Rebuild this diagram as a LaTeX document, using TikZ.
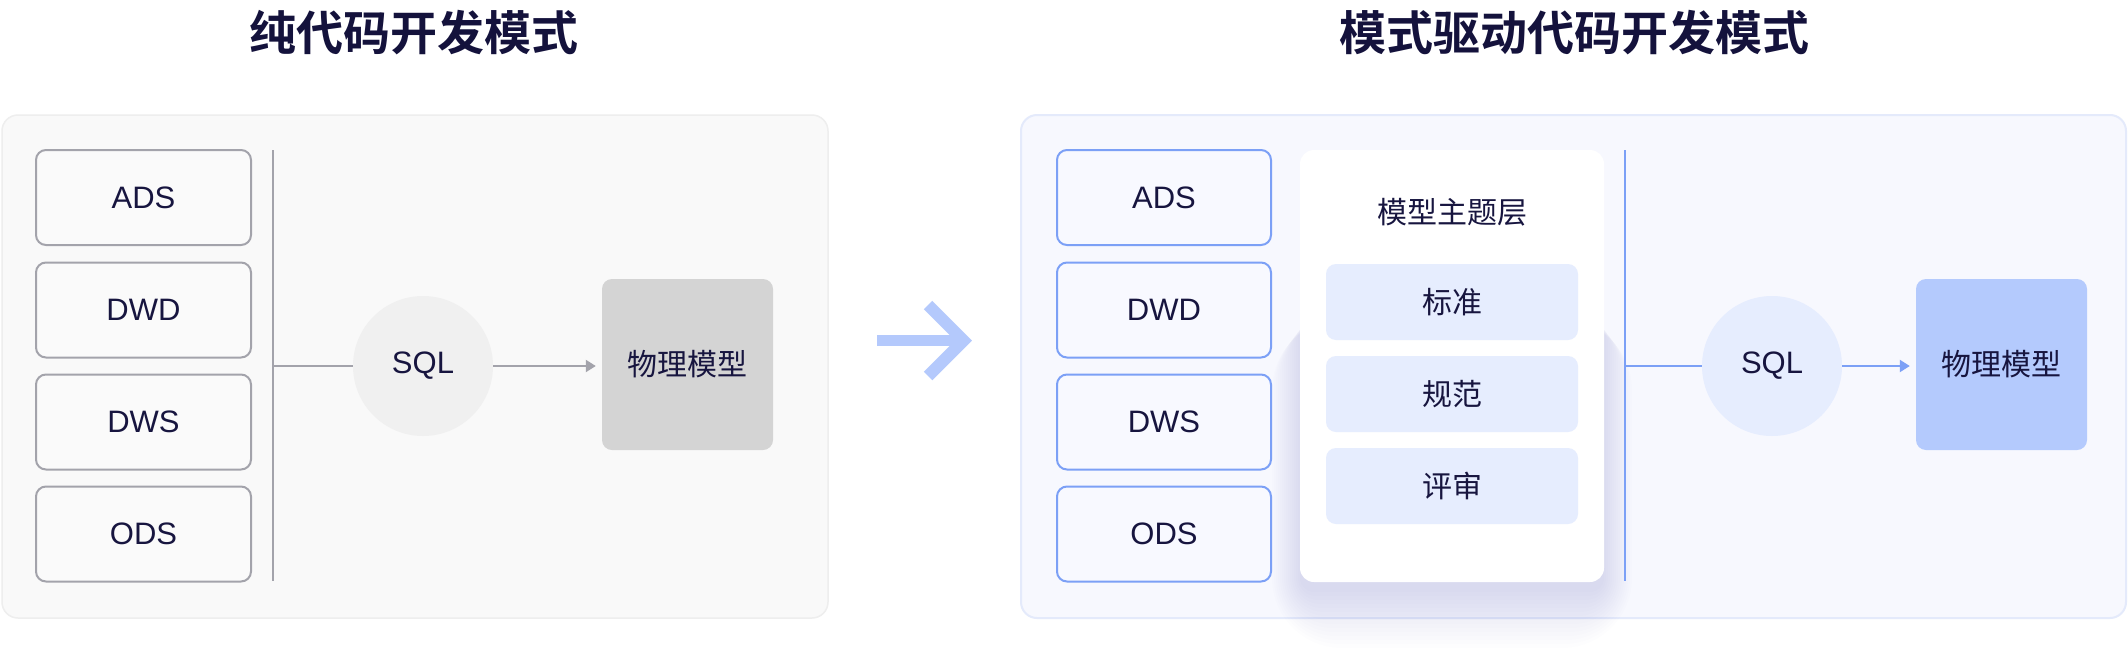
\documentclass[tikz,border=0pt]{standalone}
\usepackage{fontspec}
\setmainfont{Liberation Sans}
\newfontfamily\cjk[BoldFont={Noto Sans CJK SC Bold}]{Noto Sans CJK SC}
\usetikzlibrary{arrows.meta}
\definecolor{titlec}{HTML}{14123C}
\definecolor{txtc}{HTML}{17153F}
\definecolor{lpanelfill}{HTML}{F9F9F9}
\definecolor{lpaneldraw}{HTML}{EEEEEE}
\definecolor{graydraw}{HTML}{A3A3AB}
\definecolor{lboxfill}{HTML}{FAFAFA}
\definecolor{lcircle}{HTML}{F0F0F0}
\definecolor{lphys}{HTML}{D4D4D4}
\definecolor{rpanelfill}{HTML}{F7F8FE}
\definecolor{rpaneldraw}{HTML}{E4EAFB}
\definecolor{bluedraw}{HTML}{7CA0F6}
\definecolor{rboxfill}{HTML}{F8F9FF}
\definecolor{lightblue}{HTML}{E6EDFE}
\definecolor{rphys}{HTML}{B4CAFD}
\definecolor{bigarrow}{HTML}{B4C9FC}
\definecolor{shadowc}{HTML}{3A55A8}
\begin{document}
\begin{tikzpicture}[x=1pt,y=-1pt,
  titletext/.style={font=\cjk\bfseries\fontsize{47}{56}\selectfont, text=titlec, inner sep=0pt},
  lbl/.style={font=\fontsize{31}{37}\selectfont, text=txtc},
  clbl/.style={font=\cjk\fontsize{30}{36}\selectfont, text=txtc},
  layerL/.style={draw=graydraw, line width=2pt, fill=lboxfill, rounded corners=10pt, minimum width=215pt, minimum height=95pt, lbl},
  layerR/.style={draw=bluedraw, line width=2pt, fill=rboxfill, rounded corners=10pt, minimum width=214pt, minimum height=95pt, lbl},
  sqlL/.style={circle, fill=lcircle, minimum size=140pt, inner sep=0pt, lbl},
  sqlR/.style={circle, fill=lightblue, minimum size=140pt, inner sep=0pt, lbl},
  physbox/.style={rounded corners=10pt, minimum width=171pt, minimum height=171pt, clbl},
  rulebox/.style={fill=lightblue, rounded corners=10pt, minimum width=252pt, minimum height=76pt, clbl},
  tip/.style={-{Triangle[length=10pt,width=12pt]}}
]
\useasboundingbox (0,0) rectangle (2128,670);
\fill[white] (0,0) rectangle (2128,670);

% titles
\node[titletext] (t1) at (414,33) {纯代码开发模式};
\node[titletext] (t2) at (1574,33) {模式驱动代码开发模式};

% ---------------- left panel
\draw[fill=lpanelfill, draw=lpaneldraw, line width=1.5pt, rounded corners=16pt] (2,115) rectangle (828,618);
\node[layerL] (lads) at (143.5,197.5) {ADS};
\node[layerL] (ldwd) at (143.5,310) {DWD};
\node[layerL] (ldws) at (143.5,422) {DWS};
\node[layerL] (lods) at (143.5,534) {ODS};
\coordinate (lvt) at (273,150);
\coordinate (lvb) at (273,581);
\coordinate (lvm) at (273,366);
\draw[graydraw, line width=2pt] (lvt) -- (lvb);
\node[sqlL] (lsql) at (423,366) {SQL};
\node[physbox, fill=lphys] (lphys) at (687.5,364.5) {物理模型};
\draw[graydraw, line width=2pt] (lvm) -- (lsql.west);
\draw[graydraw, line width=2pt, tip, shorten >=6pt] (lsql.east) -- (lphys.west |- lsql.east);

% ---------------- big arrow
\coordinate (ba1) at (877,340.5);
\coordinate (ba2) at (963.5,340.5);
\coordinate (bu) at (928,305);
\coordinate (bd) at (928,376);
\draw[bigarrow, line width=11pt] (ba1) -- (ba2);
\draw[bigarrow, line width=12pt, miter limit=10] (bu) -- (ba2) -- (bd);

% ---------------- right panel
\draw[fill=rpanelfill, draw=rpaneldraw, line width=2pt, rounded corners=16pt] (1021,115) rectangle (2126,618);
\node[layerR] (rads) at (1164,197.5) {ADS};
\node[layerR] (rdwd) at (1164,310) {DWD};
\node[layerR] (rdws) at (1164,422) {DWS};
\node[layerR] (rods) at (1164,534) {ODS};

% shadow of the white panel
\foreach \s in {0,4,...,56} {
  \pgfmathsetmacro{\rr}{14+\s}
  \fill[shadowc, opacity=0.006, rounded corners=\rr pt] (1300-0.5*\s,320) rectangle (1604+0.5*\s,592+\s);
}
\node[fill=white, rounded corners=14pt, minimum width=304pt, minimum height=432pt, inner sep=0pt] (theme) at (1452,366) {};
\node[clbl] (themet) at (1452,212) {模型主题层};
\node[rulebox] (std) at (1452,302) {标准};
\node[rulebox] (spec) at (1452,394) {规范};
\node[rulebox] (rev) at (1452,486) {评审};

\coordinate (rvt) at (1625,150);
\coordinate (rvb) at (1625,581);
\coordinate (rvm) at (1625,366);
\draw[bluedraw, line width=2pt] (rvt) -- (rvb);
\node[sqlR] (rsql) at (1772,366) {SQL};
\node[physbox, fill=rphys] (rphys) at (2001.5,364.5) {物理模型};
\draw[bluedraw, line width=2pt] (rvm) -- (rsql.west);
\draw[bluedraw, line width=2pt, tip, shorten >=6pt] (rsql.east) -- (rphys.west |- rsql.east);
\end{tikzpicture}
\end{document}
